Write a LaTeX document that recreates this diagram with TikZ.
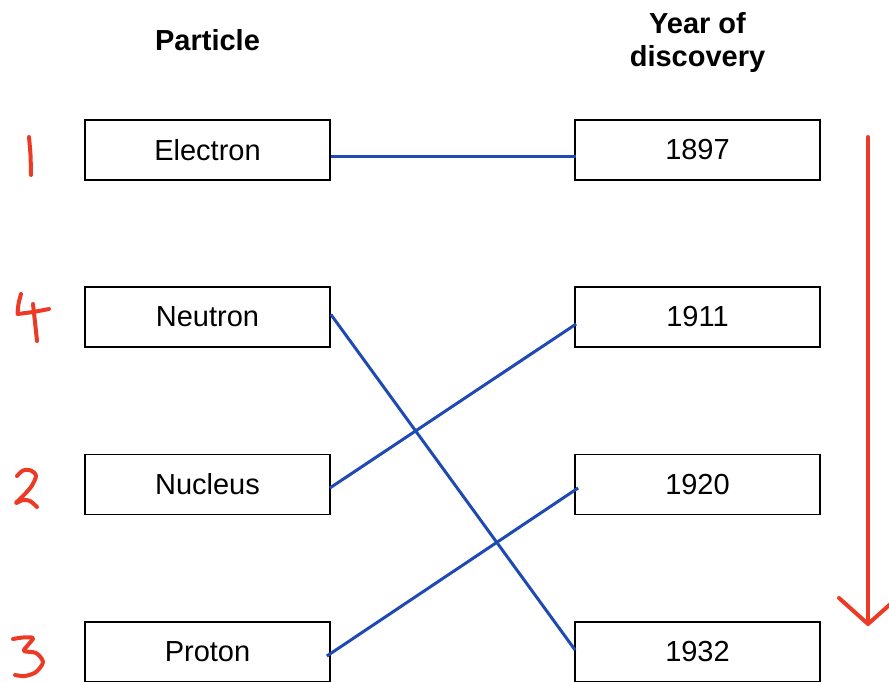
\documentclass[tikz,border=0pt]{standalone}
\usepackage{fontspec}
\setmainfont{Liberation Sans}
\definecolor{linkblue}{RGB}{31,74,178}
\definecolor{penred}{RGB}{236,58,38}
\tikzset{
  box/.style={draw=black, line width=1.8pt, minimum width=245pt, minimum height=60pt, inner sep=0pt, font=\fontsize{29}{33}\selectfont},
  head/.style={font=\bfseries\fontsize{29}{33}\selectfont, align=center},
  link/.style={draw=linkblue, line width=3pt},
  pen/.style={draw=penred, line width=4pt, line cap=round, line join=round},
}
\begin{document}
\begin{tikzpicture}[x=1pt,y=-1pt]
\useasboundingbox (0,0) rectangle (889,682);
\node[head] (ph) at (207.5,40) {Particle};
\node[head] (yh) at (697.5,42.5) {Year of\\discovery};

\node[box] (e)  at (207.5,150)   {Electron};
\node[box] (n)  at (207.5,317) {Neutron};
\node[box] (nu) at (207.5,484.5)   {Nucleus};
\node[box] (p)  at (207.5,652) {Proton};

\node[box] (y1) at (697.5,150)   {1897};
\node[box] (y2) at (697.5,317) {1911};
\node[box] (y3) at (697.5,484.5)   {1920};
\node[box] (y4) at (697.5,652) {1932};

\draw[link] ([yshift=-7pt]e.east) -- ([yshift=-7pt,xshift=2pt]y1.west);
\draw[link] ([yshift=2.5pt]n.east) -- ([yshift=2pt,xshift=1pt]y4.west);
\draw[link] ([yshift=-3.5pt,xshift=-1pt]nu.east) -- ([yshift=-7pt,xshift=2pt]y2.west);
\draw[link] ([yshift=-4pt,xshift=-4pt]p.east) -- ([yshift=-3.5pt,xshift=4pt]y3.west);

% red arrow
\coordinate (at) at (868,137);
\coordinate (ab) at (868,624);
\draw[pen] (at) -- (ab);
\draw[pen] (839,598) -- (ab) -- (895,600);

% handwritten numbers
\draw[pen] plot[smooth] coordinates {(29,137) (30.5,155) (31,175)};
\draw[pen] plot[smooth] coordinates {(21,294) (18.5,304) (17.5,314)} -- plot[smooth] coordinates {(17.5,314) (33,312) (49,309)};
\draw[pen] plot[smooth] coordinates {(33,304) (35,322) (37,341)};
\draw[pen] plot[smooth] coordinates {(17,476) (23,470.5) (31,470.5) (36,476) (31,487) (21,498) (16,503) (23,500) (30,501) (37,507)};
\draw[pen] plot[smooth] coordinates {(13,639) (23,637.5) (33,638) (28,645) (24,651) (36,653) (43,662) (36,672) (25,676) (15,675)};
\end{tikzpicture}
\end{document}
